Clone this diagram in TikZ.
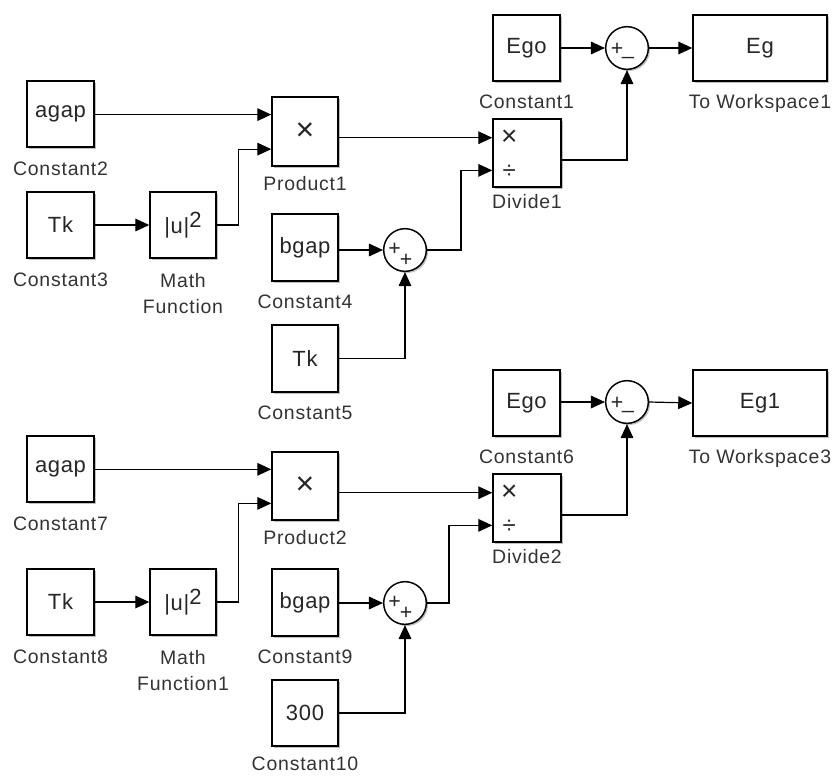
\documentclass[tikz,border=0pt]{standalone}
\usepackage{fontspec}
\setmainfont{Liberation Sans}
\newfontfamily\lblfont[LetterSpace=4]{Liberation Sans}
\newfontfamily\blkfont[LetterSpace=3]{Liberation Sans}
\usetikzlibrary{arrows.meta,shadows,calc}
\begin{document}
\begin{tikzpicture}[x=0.75pt,y=-0.75pt,
  blk/.style={draw=black, line width=1.1pt, fill=white, inner sep=0pt,
    drop shadow={shadow xshift=1.3pt, shadow yshift=-1.3pt, opacity=0.25, fill=black},
    font=\blkfont\fontsize{16.5}{18}\selectfont, text=black!85},
  cw/.style={minimum width=50.25pt, minimum height=49.5pt},
  sumc/.style={circle, draw=black, line width=1.1pt, fill=white, minimum size=32pt, inner sep=0pt,
    drop shadow={shadow xshift=1.3pt, shadow yshift=-1.3pt, opacity=0.25, fill=black}},
  lbl/.style={font=\lblfont\fontsize{14.6}{19.5}\selectfont, text=black!80, anchor=base, inner sep=0pt},
  sgn/.style={font=\fontsize{16}{16}\selectfont, inner sep=0pt, text=black!85},
  arr/.style={line width=0.9pt, -{Triangle[length=10.5pt,width=9.5pt]}}
]
\useasboundingbox (0,0) rectangle (840,776);

% ================= TOP =================
\node[blk, cw] (C2) at (60.5,114) {agap};
\node[lbl] (C2l) at ([yshift=-21pt]C2.south) {Constant2};
\node[blk, cw] (C3) at (60.5,225) {Tk};
\node[lbl] (C3l) at ([yshift=-21pt]C3.south) {Constant3};
\node[blk, minimum width=49.5pt, minimum height=49.5pt] (MF) at (183,225) {|u|\raisebox{5pt}{2}};
\node[lbl, anchor=north, align=center] (MFl) at ([yshift=-11pt]MF.south) {Math\\Function};

\node[blk, minimum width=49.5pt, minimum height=51.75pt, font=\fontsize{24}{24}\selectfont] (P1) at (305,131.5) {×};
\node[lbl] (P1l) at ([yshift=-18pt]P1.south) {Product1};
\coordinate (P1a) at ($(P1.north west)!0.26!(P1.south west)$);
\coordinate (P1b) at ($(P1.north west)!0.75!(P1.south west)$);

\node[blk, minimum width=49.5pt, minimum height=50.25pt] (C4) at (305,247.5) {bgap};
\node[lbl] (C4l) at ([yshift=-20.25pt]C4.south) {Constant4};
\node[blk, minimum width=49.5pt, minimum height=50.25pt] (C5) at (305,358.5) {Tk};
\node[lbl] (C5l) at ([yshift=-20.25pt]C5.south) {Constant5};
\node[sumc] (S1) at (405,250) {};
\node[sgn] (S1p) at (394.5,249.5) {+};
\node[sgn] (S1q) at (406,260) {+};

\node[blk, minimum width=51pt, minimum height=51pt] (D1) at (527,153) {};
\node[lbl] (D1l) at ([yshift=-15.75pt]D1.south) {Divide1};
\coordinate (D1a) at ($(D1.north west)!0.28!(D1.south west)$);
\coordinate (D1b) at ($(D1.north west)!0.75!(D1.south west)$);
\coordinate (D1o) at ($(D1.north east)!0.6!(D1.south east)$);
\node[font=\fontsize{21}{21}\selectfont, inner sep=0pt, text=black!85] (D1x) at ([xshift=12.75pt]D1a) {×};
\node[font=\fontsize{18}{18}\selectfont, inner sep=0pt, text=black!85] (D1d) at ([xshift=12.75pt,yshift=-1pt]D1b) {÷};

\node[blk, cw] (C1) at (526.5,48) {Ego};
\node[lbl] (C1l) at ([yshift=-20.25pt]C1.south) {Constant1};
\node[sumc] (S2) at (627,48) {};
\node[sgn] (S2p) at (617,49.5) {+};
\node[sgn] (S2m) at (628,57) {\_};
\node[blk, minimum width=100.5pt, minimum height=49.5pt] (TW1) at (760,48) {Eg};
\node[lbl] (TW1l) at ([yshift=-20.25pt]TW1.south) {To Workspace1};

\draw[arr] (C2.east |- P1a) -- (P1a);
\draw[arr] (C3.east) -- (MF.west);
\draw[arr] (MF.east) -- ++(16.5pt,0) |- (P1b);
\draw[arr] (P1.east |- D1a) -- (D1a);
\draw[arr] (C4.east |- S1.west) -- (S1.west);
\draw[arr] (C5.east) -| (S1.south);
\draw[arr] (S1.east) -- ++(25.5pt,0) |- (D1b);
\draw[arr] (D1o) -| (S2.south);
\draw[arr] (C1.east) -- (S2.west);
\draw[arr] (S2.east) -- (TW1.west);

% ================= BOTTOM =================
\node[blk, cw] (C7) at (60.5,469) {agap};
\node[lbl] (C7l) at ([yshift=-21pt]C7.south) {Constant7};
\node[blk, cw] (C8) at (60.5,602) {Tk};
\node[lbl] (C8l) at ([yshift=-21pt]C8.south) {Constant8};
\node[blk, minimum width=49.5pt, minimum height=49.5pt] (MF1) at (183,602) {|u|\raisebox{5pt}{2}};
\node[lbl, anchor=north, align=center] (MF1l) at ([yshift=-11pt]MF1.south) {Math\\Function1};

\node[blk, minimum width=49.5pt, minimum height=51pt, font=\fontsize{24}{24}\selectfont] (P2) at (305,486) {×};
\node[lbl] (P2l) at ([yshift=-18pt]P2.south) {Product2};
\coordinate (P2a) at ($(P2.north west)!0.26!(P2.south west)$);
\coordinate (P2b) at ($(P2.north west)!0.75!(P2.south west)$);

\node[blk, minimum width=49.5pt, minimum height=50.25pt] (C9) at (305,602.5) {bgap};
\node[lbl] (C9l) at ([yshift=-20.25pt]C9.south) {Constant9};
\node[blk, minimum width=49.5pt, minimum height=49.5pt] (C10) at (305,713) {300};
\node[lbl] (C10l) at ([yshift=-17.5pt]C10.south) {Constant10};
\node[sumc] (S3) at (405,603) {};
\node[sgn] (S3p) at (394.5,602.5) {+};
\node[sgn] (S3q) at (406,613) {+};

\node[blk, minimum width=51pt, minimum height=51pt] (D2) at (527,508) {};
\node[lbl] (D2l) at ([yshift=-15.75pt]D2.south) {Divide2};
\coordinate (D2a) at ($(D2.north west)!0.28!(D2.south west)$);
\coordinate (D2b) at ($(D2.north west)!0.75!(D2.south west)$);
\coordinate (D2o) at ($(D2.north east)!0.6!(D2.south east)$);
\node[font=\fontsize{21}{21}\selectfont, inner sep=0pt, text=black!85] (D2x) at ([xshift=12.75pt]D2a) {×};
\node[font=\fontsize{18}{18}\selectfont, inner sep=0pt, text=black!85] (D2d) at ([xshift=12.75pt,yshift=-1pt]D2b) {÷};

\node[blk, cw] (C6) at (526.5,403) {Ego};
\node[lbl] (C6l) at ([yshift=-20.25pt]C6.south) {Constant6};
\node[sumc] (S4) at (627,402) {};
\node[sgn] (S4p) at (617,403.5) {+};
\node[sgn] (S4m) at (628,411) {\_};
\node[blk, minimum width=100.5pt, minimum height=49.5pt] (TW3) at (760,403) {Eg1};
\node[lbl] (TW3l) at ([yshift=-20.25pt]TW3.south) {To Workspace3};

\draw[arr] (C7.east |- P2a) -- (P2a);
\draw[arr] (C8.east) -- (MF1.west);
\draw[arr] (MF1.east) -- ++(16.5pt,0) |- (P2b);
\draw[arr] (P2.east |- D2a) -- (D2a);
\draw[arr] (C9.east |- S3.west) -- (S3.west);
\draw[arr] (C10.east) -| (S3.south);
\draw[arr] (S3.east) -- ++(16.5pt,0) |- (D2b);
\draw[arr] (D2o) -| (S4.south);
\draw[arr] (C6.east |- S4.west) -- (S4.west);
\draw[arr] (S4.east) -- (TW3.west);
\end{tikzpicture}
\end{document}
